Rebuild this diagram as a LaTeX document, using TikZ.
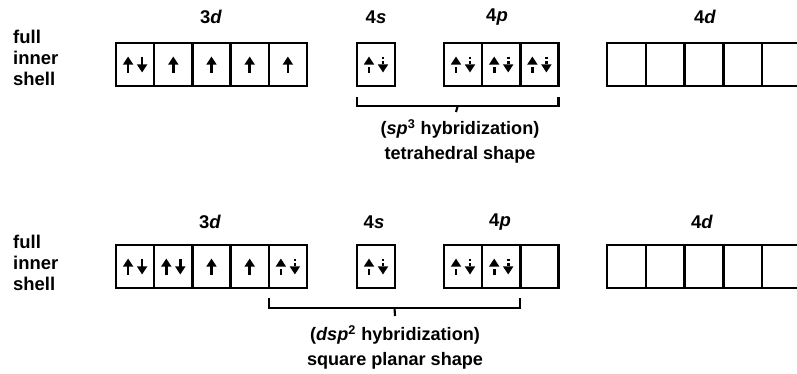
\documentclass[tikz,border=0pt]{standalone}
\usepackage{fontspec}
\setmainfont{Liberation Sans}
\usetikzlibrary{calc, positioning, arrows.meta}

\begin{document}
\begin{tikzpicture}[
  x=0.02cm, y=-0.02cm,
  orb/.style={draw, line width=1.4pt, minimum width=0.764cm, minimum height=0.86cm, outer sep=0pt, inner sep=0pt},
  lbl/.style={font=\fontsize{10.5}{12}\selectfont\bfseries},
  note/.style={font=\fontsize{10.3}{14}\selectfont\bfseries, align=center},
  spin/.style={line width=1.5pt, -{Triangle[length=4.6pt, width=5.6pt]}},
  brk/.style={line width=1.2pt},
  pics/up/.style={code={\draw[spin] (0,8) -- (0,-8);}},
  pics/updn/.style={code={
    \draw[spin] (-7,8) -- (-7,-8);
    \draw[spin] (7,-8) -- (7,8);}},
  pics/lpair/.style={code={
    \draw[spin, densely dashed] (-7,8) -- (-7,-8);
    \draw[spin, densely dotted] (7,-8) -- (7,8);}}
]
  \useasboundingbox (0,0) rectangle (797,373);
  \clip (0,0) rectangle (797,373);

  % --- Row A: sp3 ---
  \node[lbl, anchor=west, align=left, font=\fontsize{10.5}{11.9}\selectfont\bfseries] (ashell) at (7,58) {full\\inner\\shell};
  \node[orb] (a3d1) at (135.1,64.5) {};
  \foreach \i in {2,...,5} {
    \pgfmathtruncatemacro\j{\i-1}
    \node[orb, right=0pt of a3d\j] (a3d\i) {};
  }
  \node[orb] (a4s) at (376,64.5) {};
  \node[orb] (a4p1) at (463,64.5) {};
  \node[orb, right=0pt of a4p1] (a4p2) {};
  \node[orb, right=0pt of a4p2] (a4p3) {};
  \node[orb, minimum width=0.776cm] (a4d1) at (626.4,64.5) {};
  \foreach \i in {2,...,5} {
    \pgfmathtruncatemacro\j{\i-1}
    \node[orb, minimum width=0.776cm, right=0pt of a4d\j] (a4d\i) {};
  }
  \node[lbl] (a3dl) at (211,17) {3\textit{d}};
  \node[lbl] (a4sl) at (376,17) {4\textit{s}};
  \node[lbl] (a4pl) at (497,17) {4\textit{p}};
  \node[lbl] (a4dl) at (705,17) {4\textit{d}};
  % electrons
  \pic at (a3d1) {updn};
  \foreach \i in {2,...,5} \pic at (a3d\i) {up};
  \pic at (a4s) {lpair};
  \foreach \i in {1,2,3} \pic at (a4p\i) {lpair};
  % bracket
  \coordinate (aL) at ($(a4s.south west)+(0,11)$);
  \coordinate (aR) at ($(a4p3.south east)+(0,11)$);
  \coordinate (aM) at ($(aL)!0.5!(aR)+(0,9)$);
  \node[note] (ahyb) at (460,141) {(\textit{sp}\textsuperscript{3} hybridization)\\tetrahedral shape};
  \draw[brk] (aL) -- ++(0,9) -| (aR);
  \draw[brk] (aM) -- ($(ahyb.north)+(-4,-1)$);

  % --- Row B: dsp2 ---
  \node[lbl, anchor=west, align=left, font=\fontsize{10.5}{11.9}\selectfont\bfseries] (bshell) at (7,263) {full\\inner\\shell};
  \node[orb] (b3d1) at (135.1,266.5) {};
  \foreach \i in {2,...,5} {
    \pgfmathtruncatemacro\j{\i-1}
    \node[orb, right=0pt of b3d\j] (b3d\i) {};
  }
  \node[orb] (b4s) at (376,266.5) {};
  \node[orb] (b4p1) at (463,266.5) {};
  \node[orb, right=0pt of b4p1] (b4p2) {};
  \node[orb, right=0pt of b4p2] (b4p3) {};
  \node[orb, minimum width=0.776cm] (b4d1) at (626.4,266.5) {};
  \foreach \i in {2,...,5} {
    \pgfmathtruncatemacro\j{\i-1}
    \node[orb, minimum width=0.776cm, right=0pt of b4d\j] (b4d\i) {};
  }
  \node[lbl] (b3dl) at (210,222) {3\textit{d}};
  \node[lbl] (b4sl) at (374,222) {4\textit{s}};
  \node[lbl] (b4pl) at (500,222) {4\textit{p}};
  \node[lbl] (b4dl) at (702,222) {4\textit{d}};
  % electrons
  \pic at (b3d1) {updn};
  \pic at (b3d2) {updn};
  \pic at (b3d3) {up};
  \pic at (b3d4) {up};
  \pic at (b3d5) {lpair};
  \pic at (b4s) {lpair};
  \pic at (b4p1) {lpair};
  \pic at (b4p2) {lpair};
  % bracket
  \coordinate (bL) at ($(b3d5.south west)+(0,10)$);
  \coordinate (bR) at ($(b4p2.south east)+(0,10)$);
  \coordinate (bM) at ($(bL)!0.5!(bR)+(0,10)$);
  \node[note] (bhyb) at (395,347) {(\textit{dsp}\textsuperscript{2} hybridization)\\square planar shape};
  \draw[brk] (bL) -- ++(0,10) -| (bR);
  \draw[brk] (bM) -- ($(bhyb.north)+(0,-3)$);
\end{tikzpicture}
\end{document}
